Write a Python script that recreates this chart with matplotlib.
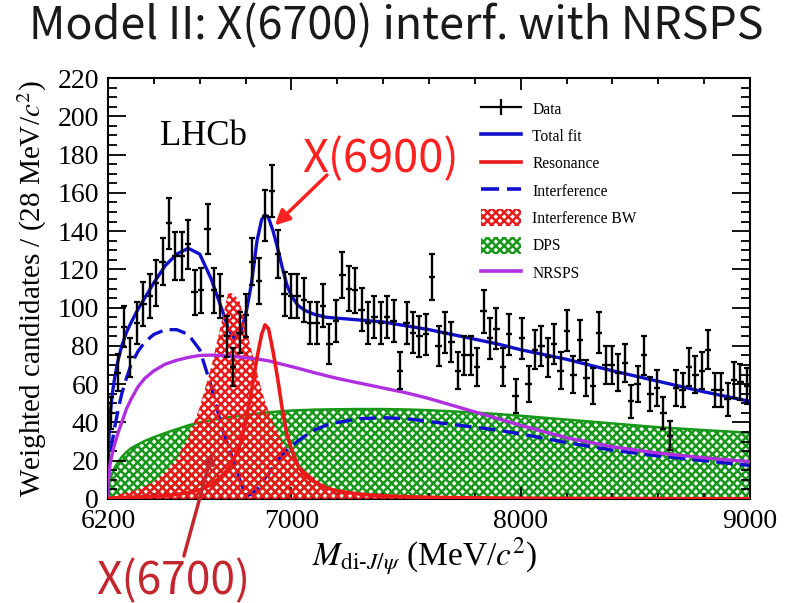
import numpy as np
import matplotlib
matplotlib.use("Agg")
import matplotlib.pyplot as plt
from matplotlib.lines import Line2D
from matplotlib.patches import Patch
from matplotlib.legend_handler import HandlerTuple
from matplotlib.ticker import MultipleLocator

plt.rcParams['font.family'] = ['Liberation Serif', 'DejaVu Serif']
plt.rcParams['mathtext.fontset'] = 'stix'
plt.rcParams['hatch.linewidth'] = 1.8

# ---------------- data ----------------
bin_start = 6200
bin_width = 28
counts = [45, 66, 90, 74, 92, 102, 106, 113, 124, 144,
          127, 127, 133, 108, 109, 141, 109, 106, 85, 69,
          87, 96, 124, 114, 148, 161, 128, 107, 106, 106,
          104, 92, 92, 101, 81, 93, 117, 110, 109, 99,
          92, 95, 92, 95, 93, 67, 92, 87, 85, 86,
          116, 80, 87, 82, 67, 75, 75, 69, 98, 84,
          89, 69, 86, 54, 84, 60, 78, 80, 74, 81,
          67, 88, 65, 83, 63, 59, 87, 70, 70, 66,
          71, 51, 60, 75, 55, 58, 45, 33, 58, 57,
          69, 65, 67, 78, 57, 57, 52, 62, 61, 59]
errors = [8.3, 9.6, 10.8, 10.0, 10.9, 11.4, 11.6, 11.9, 12.3, 13.1,
          12.4, 12.4, 12.7, 11.7, 11.7, 13.0, 11.7, 11.6, 10.6, 9.8,
          10.7, 11.1, 12.3, 11.9, 13.3, 13.7, 12.5, 11.6, 11.6, 11.6,
          11.5, 10.9, 10.9, 11.3, 10.4, 11.0, 12.0, 11.7, 11.7, 11.3,
          10.9, 11.1, 10.9, 11.1, 11.0, 9.7, 10.9, 10.7, 10.6, 10.6,
          12.0, 10.4, 10.7, 10.5, 9.7, 10.1, 10.1, 9.8, 11.2, 10.6,
          10.8, 9.8, 10.6, 8.9, 10.6, 9.3, 10.3, 10.4, 10.0, 10.4,
          9.7, 10.7, 9.6, 10.5, 9.4, 9.2, 10.7, 9.8, 9.8, 9.6,
          9.9, 8.7, 9.3, 10.1, 9.0, 9.2, 8.3, 7.5, 9.2, 9.1,
          9.8, 9.6, 9.7, 10.3, 9.1, 9.1, 8.8, 9.4, 9.3, 9.2]

mass = [6199, 6201, 6203, 6206, 6210, 6220, 6230, 6245, 6260, 6280,
        6300, 6330, 6360, 6400, 6450, 6500, 6550, 6600, 6650, 6700,
        6725, 6750, 6775, 6800, 6825, 6850, 6870, 6885, 6900, 6920,
        6940, 6960, 6980, 7000, 7030, 7060, 7100, 7150, 7200, 7300,
        7400, 7500, 7600, 7700, 7800, 7900, 8000, 8200, 8400, 8600,
        8800, 9000]
total_fit = [0, 20, 28, 37, 45, 56, 64, 73, 80, 87,
             92, 99, 105, 113, 122, 128, 131, 128, 115, 98,
             89, 84, 86, 96, 112, 135, 146, 148.5, 147, 140,
             131, 121, 112, 106, 101, 98.5, 96.5, 95, 94.5, 93.5,
             92.5, 90.5, 88.5, 86, 83.5, 81, 78, 73, 67, 61.5,
             56, 51]
interference = [0, 8, 12, 18, 23, 31, 38, 47, 55, 63,
                70, 77, 82, 86, 88.5, 88.5, 86, 78, 59, 36,
                27.5, 19, 10, 1.5, 2.5, 5, 8, 11, 13, 17,
                20, 23, 25.5, 27.5, 30.5, 33, 36, 38.5, 40, 42,
                42.5, 42, 40.5, 39, 37.5, 36, 34, 29.5, 25.5, 22.5,
                20, 17.5]
resonance = [0, 0.1, 0.2, 0.3, 0.4, 0.5, 0.6, 0.7, 0.8, 0.9,
             1.0, 1.1, 1.2, 1.4, 1.8, 2.4, 3.3, 4.8, 7.5, 12.5,
             16, 21, 28, 40, 56, 74, 86, 91, 89, 77,
             63, 47, 34, 26, 17, 12, 9, 5.8, 4.2, 2.5,
             1.7, 1.2, 0.9, 0.7, 0.6, 0.5, 0.4, 0.3, 0.25, 0.2,
             0.15, 0.1]
interference_bw = [0, 0.3, 0.5, 0.8, 1.0, 1.4, 1.8, 2.3, 2.8, 3.4,
                   4.0, 5.0, 6.5, 9, 14, 21, 32, 48, 69, 95,
                   108, 107, 103, 90, 78, 66, 57, 51, 46, 40,
                   35, 30, 26, 22.5, 18, 14.5, 11, 7, 4.8, 2.8,
                   1.7, 1.1, 0.8, 0.6, 0.5, 0.4, 0.35, 0.3, 0.25, 0.2,
                   0.15, 0.1]
dps = [0, 3, 5, 8, 10.5, 14, 16.5, 19.5, 22, 24.5,
       26.5, 28.5, 30.3, 32.3, 34.5, 36.5, 38.5, 40, 41.2, 42.2,
       42.7, 43.1, 43.5, 43.9, 44.3, 44.6, 44.9, 45.1, 45.3, 45.5,
       45.7, 45.9, 46, 46.2, 46.4, 46.5, 46.7, 46.8, 46.9, 47,
       47, 46.8, 46.4, 45.8, 45.2, 44.4, 43.5, 41.5, 39.5, 37.5,
       36, 34.6]
nrsps = [0, 8, 11, 15, 19, 24.5, 29, 35, 40, 47,
         52, 58.5, 63, 67, 70.5, 72.5, 74, 75, 75.2, 75,
         74.8, 74.5, 74.2, 73.8, 73.5, 73.1, 72.8, 72.5, 72.2, 71.6,
         71, 70.4, 69.8, 69.2, 68.3, 67.3, 66, 64.5, 63, 60.5,
         58, 55.5, 52.5, 49, 45.5, 42, 38.5, 32, 27.3, 24,
         21.5, 19.5]

x_ticks = [6200, 7000, 8000, 9000]
y_ticks = list(range(0, 221, 20))

# ---------------- colours ----------------
c_blue = '#1010cc'
c_red = '#ea1a1a'
c_green = '#18981a'
c_purple = '#b030e0'
HATCH = 'xxxx'

fig = plt.figure(figsize=(7.9, 6.03), dpi=100)
ax = fig.add_axes([108/790, 1-499/603, 642/790, 421/603])

centers = bin_start + bin_width * (np.arange(len(counts)) + 0.5)
m = np.array(mass)

# DPS hatched
ax.fill_between(m, 0, dps, facecolor='none', edgecolor=c_green,
                hatch=HATCH, linewidth=0, zorder=1)
ax.plot(m, dps, color=c_green, lw=1.8, zorder=1.5)
# blue curves under the red hatch
ax.plot(m, interference, color=c_blue, lw=2.4, dashes=(5, 2.2), zorder=2)
ax.plot(m, total_fit, color=c_blue, lw=2.4, zorder=2.1)
# interference BW hatched
ax.fill_between(m, 0, interference_bw, facecolor='none', edgecolor=c_red,
                hatch=HATCH, linewidth=0, zorder=3)
ax.plot(m, nrsps, color=c_purple, lw=2.4, zorder=4)
ax.plot(m, resonance, color=c_red, lw=2.6, zorder=4.1)

# data
ax.errorbar(centers, counts, xerr=bin_width/2, fmt='none', ecolor='black',
            elinewidth=1.7, capsize=0, zorder=5)
ax.errorbar(centers, counts, yerr=errors, fmt='none', ecolor='black',
            elinewidth=1.7, capsize=2.2, capthick=1.6, zorder=5)

ax.set_xlim(6200, 9000)
ax.set_ylim(0, 220)
ax.set_xticks(x_ticks)
ax.set_yticks(y_ticks)
ax.xaxis.set_minor_locator(MultipleLocator(200))
ax.yaxis.set_minor_locator(MultipleLocator(5))
ax.tick_params(which='both', direction='in', top=True, right=True,
               labelsize=20, width=1.3)
ax.tick_params(axis='y', which='both', pad=6.5)
ax.tick_params(axis='x', which='both', pad=7.5)
ax.tick_params(axis='y', which='major', length=13)
ax.tick_params(axis='y', which='minor', length=6.5)
ax.tick_params(axis='x', which='major', length=8.5)
ax.tick_params(axis='x', which='minor', length=4.5)
for s in ax.spines.values():
    s.set_linewidth(1.5)

ax.set_ylabel('Weighted candidates / (28 MeV/$c^2$)', fontsize=21)
ax.yaxis.set_label_coords(-0.092, 0.5)
ax.set_xlabel(r'$M_{\mathrm{di}\text{-}J/\psi}$ (MeV/$c^2$)', fontsize=24)
ax.xaxis.set_label_coords(0.494, -0.088)

ax.text(0.081, 0.841, 'LHCb', transform=ax.transAxes, fontsize=25,
        ha='left', va='baseline')

# legend
h_data_line = Line2D([], [], color='black', lw=1.6)
h_data_bar = ax.errorbar([], [], yerr=[], fmt='none', ecolor='black',
                         elinewidth=1.6, capsize=3, capthick=1.6)
handles = [(h_data_line, h_data_bar),
           Line2D([], [], color=c_blue, lw=2.6),
           Line2D([], [], color=c_red, lw=2.6),
           Line2D([], [], color=c_blue, lw=2.6, dashes=(5, 2.2)),
           Patch(facecolor='none', edgecolor=c_red, hatch=HATCH, linewidth=0),
           Patch(facecolor='none', edgecolor=c_green, hatch=HATCH, linewidth=0),
           Line2D([], [], color=c_purple, lw=2.6)]
labels = ['Data', 'Total fit', 'Resonance', 'Interference',
          'Interference BW', 'DPS', 'NRSPS']
fig.legend(handles, labels, loc='upper left',
           bbox_to_anchor=(481/790, 1-100/603), bbox_transform=fig.transFigure,
           frameon=False, fontsize=11.2, handlelength=2.6, handleheight=1.3,
           handletextpad=0.7, labelspacing=0.62, borderpad=0, borderaxespad=0,
           handler_map={tuple: HandlerTuple(ndivide=1)})

# annotations
sans = ['Noto Sans CJK SC', 'DejaVu Sans']
fig.text(0.502, 0.995, 'Model II: X(6700) interf. with NRSPS', ha='center',
         va='top', fontsize=32.3, family=sans, weight='light', color='#1a1a1a')
fig.text(302/790, 1-172/603, 'X(6900)', ha='left', va='baseline',
         fontsize=32.5, family=sans, weight='light', color='#ff2020')
ax.annotate('', xy=(6928, 143), xytext=(7155, 169.3),
            arrowprops=dict(arrowstyle='-|>', color='#ff2020', lw=2.5,
                            mutation_scale=22, shrinkA=0, shrinkB=0),
            annotation_clip=False, zorder=6)
fig.text(96/790, 1-594/603, 'X(6700)', ha='left', va='baseline',
         fontsize=32, family=sans, weight='light', color='#c1272d')
ax.annotate('', xy=(6654, 24), xytext=(6531, -29.8),
            arrowprops=dict(arrowstyle='-|>', color='#c1272d', lw=2.5,
                            mutation_scale=14, shrinkA=0, shrinkB=0),
            annotation_clip=False, zorder=6)

fig.savefig('out.png', dpi=100)
